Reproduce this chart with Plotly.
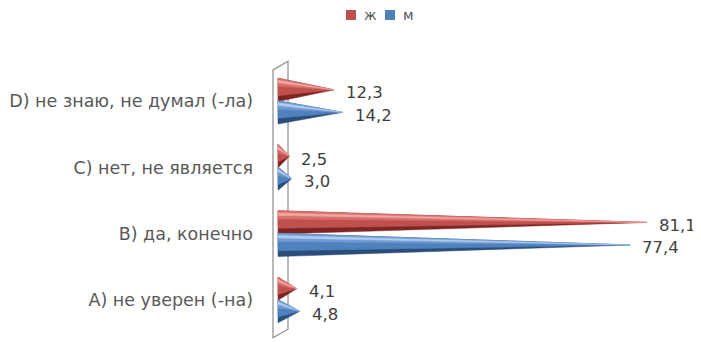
import plotly.graph_objects as go

categories = ["A) не уверен (-на)", "B) да, конечно", "C) нет, не является", "D) не знаю, не думал (-ла)"]
series_names = ["ж", "м"]
values_f = [4.1, 81.1, 2.5, 12.3]
values_m = [4.8, 77.4, 3.0, 14.2]

# styling
RED = {"dark": "#7d2523", "mid": "#c0504d", "light": "#d96f6b", "hi": "#eea7a4"}
BLUE = {"dark": "#2a4d7a", "mid": "#4f81bd", "light": "#709bd3", "hi": "#b3cbec"}
OFFSET = 0.17   # vertical offset of each series from category centre
HALF = 0.175    # half height of cone base
FONT = "DejaVu Sans"

# page body has an 8px margin, so the figure is laid out 8px up/left
PX_PER_UNIT = 4.55
X0_PX = 270
fig = go.Figure()


def cone(v, yc, pal):
    # stacked triangles from base (x=0) to tip (x=v) to fake 3D shading
    bands = [(-1.0, 1.0, pal["dark"]), (-0.5, 1.0, pal["mid"]),
             (0.3, 1.0, pal["light"]), (0.6, 0.82, pal["hi"])]
    for lo, hi, col in bands:
        fig.add_trace(go.Scatter(
            x=[0, 0, v, 0], y=[yc + lo * HALF, yc + hi * HALF, yc, yc + lo * HALF],
            mode="lines", fill="toself", fillcolor=col,
            line=dict(color=col, width=0.5), hoverinfo="skip", showlegend=False))


for i, cat in enumerate(categories):
    cone(values_f[i], i + OFFSET, RED)
    cone(values_m[i], i - OFFSET, BLUE)

annotations = []
for i in range(len(categories)):
    for v, yc in ((values_f[i], i + OFFSET), (values_m[i], i - OFFSET)):
        annotations.append(dict(
            x=v, y=yc, text=f"{v:.1f}".replace(".", ","), showarrow=False,
            xanchor="left", yanchor="middle", xshift=10, yshift=-3,
            font=dict(family=FONT, size=16.5, color="#404040")))

# legend (manual, compact like the original)
legend_x = [338, 377]  # square left edges in px
for name, col, lx in zip(series_names, [RED["mid"], BLUE["mid"]], legend_x):
    annotations.append(dict(xref="paper", yref="paper", x=(lx + 16) / 701, y=1 - 7 / 342,
                            text=name, showarrow=False, xanchor="left", yanchor="middle",
                            font=dict(family=FONT, size=14, color="#595959")))

shapes = []
for col, lx in zip([RED["mid"], BLUE["mid"]], legend_x):
    shapes.append(dict(type="rect", xref="paper", yref="paper",
                       x0=lx / 701, x1=(lx + 10) / 701, y0=1 - 2 / 342, y1=1 - 12 / 342,
                       fillcolor=col, line=dict(width=0)))

# 3D wall behind category axis
wall_l, wall_r = -1.1, 2.2
dy = 0.13
shapes.append(dict(type="path", xref="x", yref="y",
                   path=f"M {wall_l},{-0.57} L {wall_r},{-0.57 + dy} L {wall_r},{3.47 + dy} L {wall_l},{3.47} Z",
                   line=dict(color="#8c8c8c", width=1.2), fillcolor="rgba(255,255,255,0)", layer="below"))

y_scale = 66.3
ymin = -(342 - 292) / y_scale
fig.update_layout(
    width=701, height=342, margin=dict(l=0, r=0, t=0, b=0),
    paper_bgcolor="white", plot_bgcolor="white",
    xaxis=dict(range=[-X0_PX / PX_PER_UNIT, (701 - X0_PX) / PX_PER_UNIT], visible=False, domain=[0, 1]),
    yaxis=dict(range=[ymin, ymin + 342 / y_scale], tickvals=list(range(len(categories))), ticktext=categories,
               anchor="free", position=245 / 701, showgrid=False, zeroline=False, showline=False,
               ticks="", tickfont=dict(family=FONT, size=17.5, color="#595959")),
    showlegend=False,
    shapes=shapes, annotations=annotations,
)

fig.write_html("out.html")
